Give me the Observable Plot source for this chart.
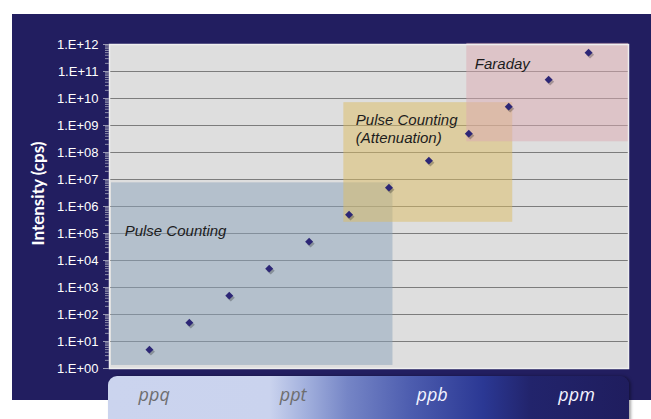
<!DOCTYPE html>
<html>
<head>
<meta charset="utf-8">
<script src="https://cdn.jsdelivr.net/npm/d3@7"></script>
<script src="https://cdn.jsdelivr.net/npm/@observablehq/plot@0.6"></script>
<style>
  html, body { margin: 0; padding: 0; background: #ffffff; }
  #wrap { position: relative; width: 651px; height: 419px; overflow: hidden; background: #ffffff; }
  #navy { position: absolute; left: 12px; top: 14px; width: 639px; height: 386px; background: #221e60; }
  #bar { position: absolute; left: 108px; top: 376px; width: 521px; height: 60px; border-radius: 9px 9px 0 0;
         background: linear-gradient(to right, #cbd4ee 0%, #cad3ee 31%, #a2b0dd 38%, #7585c6 46%, #4d5daf 58%, #2b3894 72%, #22246c 81%, #1f1d5e 100%);
         box-shadow: 2px 0 3px rgba(0,0,0,0.35); }
  #chart { position: absolute; left: 0; top: 0; }
</style>
</head>
<body>
<div id="wrap">
  <div id="navy"></div>
  <div id="bar"></div>
  <div id="chart"></div>
</div>
<script>
// ---- data ----
const pointIndex = [0, 1, 2, 3, 4, 5, 6, 7, 8, 9, 10, 11];
const intensity = [5e0, 5e1, 5e2, 5e3, 5e4, 5e5, 5e6, 5e7, 5e8, 5e9, 5e10, 5e11];

const yTicks = [1e0, 1e1, 1e2, 1e3, 1e4, 1e5, 1e6, 1e7, 1e8, 1e9, 1e10, 1e11, 1e12];
const yTickLabels = ["1.E+00", "1.E+01", "1.E+02", "1.E+03", "1.E+04", "1.E+05", "1.E+06",
                     "1.E+07", "1.E+08", "1.E+09", "1.E+10", "1.E+11", "1.E+12"];
const yTitle = "Intensity (cps)";

const regionNames = ["Pulse Counting", "Pulse Counting\n(Attenuation)", "Faraday"];
const regionX1 = [-0.95, 4.87, 7.95];
const regionX2 = [6.1, 9.1, 12];
const regionY1 = [1.3, 2.6e5, 2.5e8];
const regionY2 = [7.5e6, 7e9, 1.1e12];
const regionLabelX = [-0.62, 5.17, 8.15];
const regionLabelY = [1.35e5, 8.2e8, 2.1e11];
const regionColors = ["#8aa2ba", "#dcbc62", "#dcaab2"];

const units = ["ppq", "ppt", "ppb", "ppm"];
const unitX = [0.12, 3.6, 7.08, 10.7];
const unitColors = ["#6e6e6e", "#6e6e6e", "#f4f4ff", "#f4f4ff"];

// ---- tables ----
const points = pointIndex.map((x, i) => ({x, y: intensity[i]}));
const regions = regionNames.map((name, i) => ({
  name, x1: regionX1[i], x2: regionX2[i], y1: regionY1[i], y2: regionY2[i],
  lx: regionLabelX[i], ly: regionLabelY[i], color: regionColors[i]
}));
const unitRows = units.map((u, i) => ({u, x: unitX[i], color: unitColors[i]}));
const minorTicks = [];
for (let e = 0; e < 12; e++) for (let m = 2; m <= 9; m++) minorTicks.push(m * Math.pow(10, e));

const chart = Plot.plot({
  width: 651,
  height: 419,
  marginLeft: 109,
  marginRight: 23,
  marginTop: 44,
  marginBottom: 51,
  style: {background: "transparent", overflow: "visible"},
  x: {domain: [-1, 12], axis: null},
  y: {type: "log", domain: [1, 1e12], axis: null},
  color: {type: "identity"},
  marks: [
    Plot.frame({fill: "#dedede"}),
    Plot.gridY(yTicks, {stroke: "#7c7c7c", strokeOpacity: 1, strokeWidth: 1}),
    Plot.rect(regions, {x1: "x1", x2: "x2", y1: "y1", y2: "y2", fill: "color", fillOpacity: 0.5}),
    Plot.frame({stroke: "#efefef", strokeWidth: 1.5}),
    Plot.axisY(minorTicks, {tickSize: 4, text: null, stroke: "#8e8eaa"}),
    Plot.axisY(yTicks, {tickSize: 6, text: null, stroke: "#9a9ab4"}),
    Plot.axisY(yTicks, {
      tickSize: 0, tickPadding: 11,
      tickFormat: d => yTickLabels[yTicks.indexOf(d)],
      fill: "#ffffff", fontSize: 13, fontFamily: "Liberation Sans, Arial, sans-serif"
    }),
    Plot.text([yTitle], {
      text: d => d, frameAnchor: "left", textAnchor: "middle", lineAnchor: "middle",
      dx: -71, dy: -13, rotate: -90,
      fill: "#ffffff", fontWeight: "bold", fontSize: 17, fontFamily: "Lato, sans-serif"
    }),
    Plot.text(regions, {
      x: "lx", y: "ly", text: "name", textAnchor: "start", lineAnchor: "middle",
      lineHeight: 1.2, fontStyle: "italic", fontSize: 15, fill: "#1c1c1c",
      fontFamily: "Liberation Sans, Arial, sans-serif"
    }),
    Plot.dot(points, {x: "x", y: "y", symbol: "diamond2", r: 3.6, fill: "#000000", fillOpacity: 0.25, dx: 1.5, dy: 2}),
    Plot.dot(points, {x: "x", y: "y", symbol: "diamond2", r: 3.6, fill: "#2c2676"}),
    Plot.text(unitRows, {
      x: "x", text: "u", frameAnchor: "bottom", dy: 32, fill: "color",
      fontStyle: "italic", fontSize: 18, fontFamily: "Open Sans, sans-serif"
    })
  ]
});
document.getElementById("chart").appendChild(chart);
</script>
</body>
</html>
